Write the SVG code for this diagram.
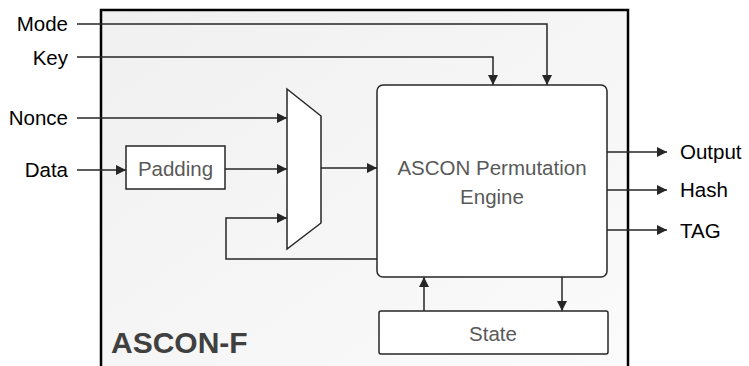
<svg xmlns="http://www.w3.org/2000/svg" width="749" height="366" viewBox="0 0 749 366">
<defs>
<linearGradient id="bg" x1="0" y1="0" x2="1" y2="1">
<stop offset="0" stop-color="#f0f0f0"/>
<stop offset="1" stop-color="#fbfbfb"/>
</linearGradient>
<marker id="ah" markerWidth="10" markerHeight="10" refX="10" refY="5" orient="auto" markerUnits="userSpaceOnUse">
<path d="M0,0 L10,5 L0,10 Z" fill="#262626"/>
</marker>
<style>
.t{font-family:"Liberation Sans",Arial,sans-serif;font-size:20.5px}
.lab{fill:#000}
.in{fill:#595959}
.box{fill:#fff;stroke:#262626;stroke-width:1.5}
.c{fill:none;stroke:#262626;stroke-width:1.5}
</style>
</defs>
<g id="ascon-f">
<rect x="101" y="10" width="527" height="370" fill="url(#bg)" stroke="#000" stroke-width="2.5"/>
<text class="t" x="111" y="353" font-size="30" font-weight="bold" fill="#404040" style="font-size:30px">ASCON-F</text>
</g>
<g id="labels">
<text class="t lab" x="68" y="31" text-anchor="end">Mode</text>
<text class="t lab" x="68" y="65" text-anchor="end">Key</text>
<text class="t lab" x="68" y="125" text-anchor="end">Nonce</text>
<text class="t lab" x="68" y="177" text-anchor="end">Data</text>
<text class="t lab" x="680" y="159">Output</text>
<text class="t lab" x="680" y="197">Hash</text>
<text class="t lab" x="680" y="238">TAG</text>
</g>
<g id="padding">
<rect class="box" x="126" y="146" width="99" height="43"/>
<text class="t in" x="175.5" y="176" text-anchor="middle">Padding</text>
</g>
<g id="mux">
<polygon class="box" points="287,89 321,116 321,223 287,249"/>
</g>
<g id="engine">
<rect class="box" x="377" y="85" width="230" height="192" rx="6"/>
<text class="t in" x="492" y="175" text-anchor="middle">ASCON Permutation</text>
<text class="t in" x="492" y="204" text-anchor="middle">Engine</text>
</g>
<g id="state">
<rect class="box" x="379" y="311" width="229" height="43" rx="2"/>
<text class="t in" x="493" y="341" text-anchor="middle">State</text>
</g>
<g id="connectors">
<path class="c" d="M77,24 H547 V85" marker-end="url(#ah)"/>
<path class="c" d="M77,57 H493 V85" marker-end="url(#ah)"/>
<path class="c" d="M77,118 H287" marker-end="url(#ah)"/>
<path class="c" d="M77,170 H126" marker-end="url(#ah)"/>
<path class="c" d="M225,169 H287" marker-end="url(#ah)"/>
<path class="c" d="M321,168 H377" marker-end="url(#ah)"/>
<path class="c" d="M377,259 H226 V218 H287" marker-end="url(#ah)"/>
<path class="c" d="M607,152 H667" marker-end="url(#ah)"/>
<path class="c" d="M607,190 H667" marker-end="url(#ah)"/>
<path class="c" d="M607,230 H667" marker-end="url(#ah)"/>
<path class="c" d="M424,311 V277" marker-end="url(#ah)"/>
<path class="c" d="M562,277 V311" marker-end="url(#ah)"/>
</g>
</svg>
